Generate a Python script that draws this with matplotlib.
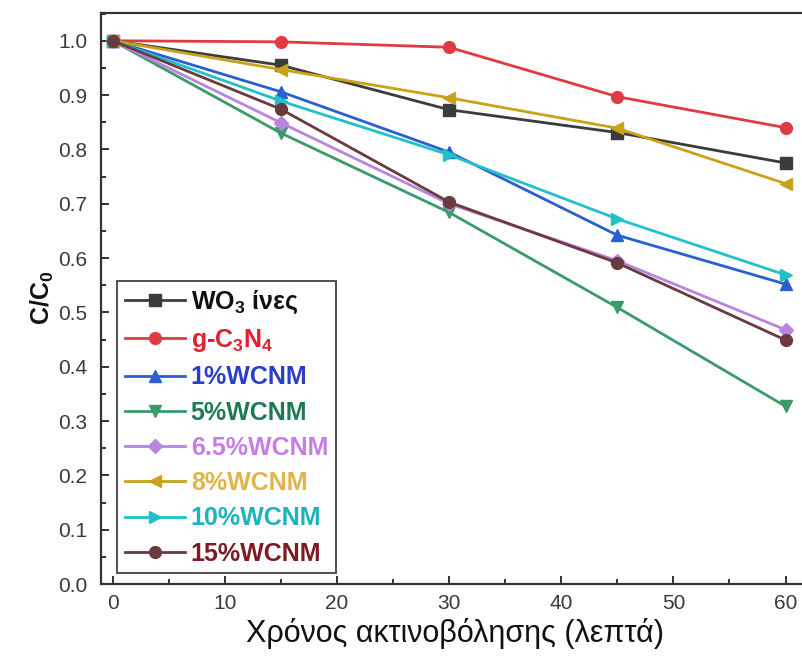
import matplotlib
matplotlib.use("Agg")
import matplotlib.pyplot as plt
from matplotlib.ticker import MultipleLocator, FormatStrFormatter

plt.rcParams['font.family'] = ['Liberation Sans', 'DejaVu Sans']
plt.rcParams['mathtext.fontset'] = 'custom'
plt.rcParams['mathtext.rm'] = 'Liberation Sans:bold'
plt.rcParams['mathtext.it'] = 'Liberation Sans:bold'
plt.rcParams['mathtext.bf'] = 'Liberation Sans:bold'
plt.rcParams['mathtext.default'] = 'rm'

# Irradiation time (min)
time_min = [0, 15, 30, 45, 60]

# C/C0 for each photocatalyst
wo3_fibers = [1.0, 0.955, 0.873, 0.831, 0.775]
g_c3n4 = [1.0, 0.998, 0.988, 0.897, 0.840]
wcnm_1 = [1.0, 0.906, 0.795, 0.642, 0.552]
wcnm_5 = [1.0, 0.830, 0.684, 0.509, 0.327]
wcnm_6_5 = [1.0, 0.849, 0.700, 0.595, 0.468]
wcnm_8 = [1.0, 0.947, 0.895, 0.839, 0.737]
wcnm_10 = [1.0, 0.889, 0.790, 0.672, 0.569]
wcnm_15 = [1.0, 0.874, 0.703, 0.591, 0.449]

labels = [r'WO$_3$ ίνες', r'g-C$_3$N$_4$', '1%WCNM', '5%WCNM',
          '6.5%WCNM', '8%WCNM', '10%WCNM', '15%WCNM']
series = [wo3_fibers, g_c3n4, wcnm_1, wcnm_5, wcnm_6_5, wcnm_8, wcnm_10, wcnm_15]
markers = ['s', 'o', '^', 'v', 'D', '<', '>', 'o']
line_colors = ['#3c3c3c', '#e03a44', '#2a5fd0', '#3a9a6a', '#b884e0',
               '#c9a21a', '#22c0c8', '#6a3a3e']
text_colors = ['#111111', '#e0202c', '#2a3fc8', '#1e7a50', '#c77de6',
               '#e0b44a', '#1cb2bf', '#7a1c22']
marker_sizes = [8, 8.5, 8.5, 8.5, 7.5, 8.5, 8.5, 8.5]

fig = plt.figure(figsize=(8.03, 6.63), dpi=100)
ax = fig.add_axes([101.5 / 803, (663 - 584) / 663, (808 - 101.5) / 803, (584 - 12.5) / 663])

handles = []
for y, lab, m, lc, ms in zip(series, labels, markers, line_colors, marker_sizes):
    h, = ax.plot(time_min, y, marker=m, color=lc, markerfacecolor=lc,
                 markeredgecolor=lc, linewidth=2.0, markersize=ms, label=lab)
    handles.append(h)

ax.set_xlim(-1, 62)
ax.set_ylim(0.0, 1.052)
ax.xaxis.set_major_locator(MultipleLocator(10))
ax.xaxis.set_minor_locator(MultipleLocator(5))
ax.yaxis.set_major_locator(MultipleLocator(0.1))
ax.yaxis.set_minor_locator(MultipleLocator(0.05))
ax.yaxis.set_major_formatter(FormatStrFormatter('%.1f'))

ax.tick_params(which='both', direction='in', top=False, right=False,
               width=1.3, colors='#222222', labelcolor='#3a3a3a', labelsize=15)
ax.tick_params(which='major', length=6)
ax.tick_params(axis='y', which='major', pad=10)
ax.tick_params(axis='x', which='major', pad=7)
ax.tick_params(which='minor', length=3.5)
for s in ax.spines.values():
    s.set_linewidth(1.6)
    s.set_color('#333333')

ax.set_xlabel('Χρόνος ακτινοβόλησης (λεπτά)', fontsize=22,
              color='#111111', labelpad=4)
ax.set_ylabel(r'C/C$_0$', fontsize=18, fontweight='bold', color='#111111', labelpad=2)

leg = ax.legend(handles=handles, loc='lower left', bbox_to_anchor=(0.022, 0.019),
                borderaxespad=0, frameon=True, fancybox=False, handlelength=2.4,
                handletextpad=0.25, labelspacing=0.45, borderpad=0.3,
                prop={'family': ['Liberation Sans', 'DejaVu Sans'],
                      'weight': 'bold', 'size': 18})
leg.get_frame().set_edgecolor('#222222')
leg.get_frame().set_linewidth(1.4)
for t, c in zip(leg.get_texts(), text_colors):
    t.set_color(c)

fig.savefig('out.png', dpi=100)
